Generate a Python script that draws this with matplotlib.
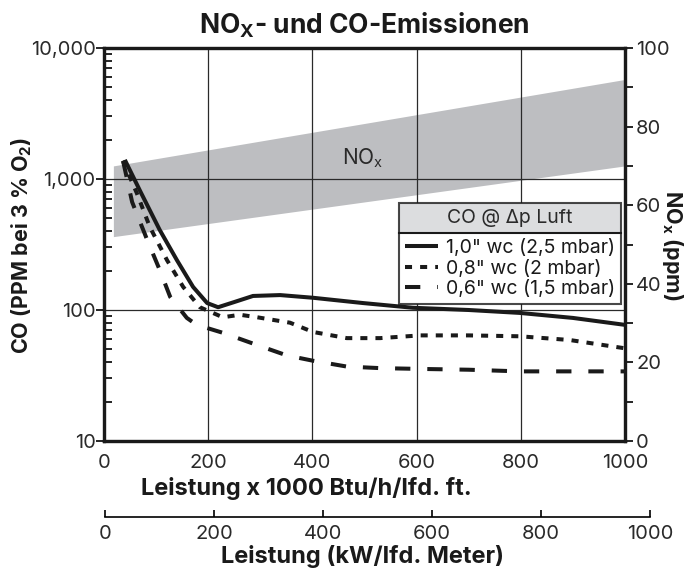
import numpy as np
import matplotlib
matplotlib.use('Agg')
import matplotlib.pyplot as plt
from matplotlib.patches import Rectangle
from matplotlib.lines import Line2D
from matplotlib.ticker import FixedLocator, NullFormatter, LogLocator

plt.rcParams['font.family'] = ['Inter', 'DejaVu Sans']
plt.rcParams['mathtext.fontset'] = 'custom'
plt.rcParams['mathtext.rm'] = 'Inter'

## Data (x = Leistung x 1000 Btu/h/lfd. ft.)
solid_x = [40, 70, 107, 140, 171, 198, 219, 250, 286, 338, 401, 497, 593, 700, 798, 900, 1000]
solid_y = [1400, 800, 408, 240, 150, 113, 105, 115, 128, 130, 124, 113, 104, 100, 95, 87, 77]

dotted_x = [36, 63, 88, 121, 152, 184, 228, 261, 294, 357, 401, 466, 530, 607, 700, 798, 894, 1000]
dotted_y = [1380, 780, 430, 240, 150, 105, 88, 92, 88, 80, 68, 61, 61, 64, 64, 63, 59, 51]

dashed_x = [37, 54, 83, 107, 127, 159, 178, 228, 294, 351, 401, 466, 530, 607, 700, 798, 900, 1000]
dashed_y = [1350, 667, 342, 202, 126, 87, 77, 67, 54, 45, 41, 37, 36, 35.5, 35, 34, 34, 34]

series_labels = ['1,0" wc (2,5 mbar)', '0,8" wc (2 mbar)', '0,6" wc (1,5 mbar)']

nox_x = [18, 1000]
nox_low = [52, 70]
nox_high = [70, 92]

kw_ticks = [0, 200, 400, 600, 800, 1000]

W, H = 690, 570

## Figure
fig = plt.figure(figsize=(6.9, 5.7), dpi=100, facecolor='white')
ax = fig.add_axes([104/W, 1-441/H, 521/W, 393/H])
ax2 = ax.twinx()
ax.set_zorder(ax2.get_zorder() + 1)
ax.patch.set_visible(False)

# NOx band on the right axis
ax2.fill_between(nox_x, nox_low, nox_high, color='#bdbec1', linewidth=0)
ax2.set_ylim(0, 100)
ax2.set_yticks([0, 20, 40, 60, 80, 100])
ax2.yaxis.set_minor_locator(FixedLocator([10, 30, 50, 70, 90]))
ax2.tick_params(axis='y', which='both', direction='out', length=6, width=1.2,
                labelsize=14.5, pad=2, labelcolor='#2a2a2a')

# CO curves
lw = 2.9
ax.plot(solid_x, solid_y, color='#1a1a1a', lw=lw, solid_capstyle='butt', label=series_labels[0])
ax.plot(dotted_x, dotted_y, color='#1a1a1a', lw=lw, ls=(0, (1.75, 2.0)), label=series_labels[1])
ax.plot(dashed_x, dashed_y, color='#1a1a1a', lw=lw, ls=(0, (3.8, 4.2)), label=series_labels[2])

ax.set_yscale('log')
ax.set_ylim(10, 10000)
ax.set_xlim(0, 1000)
ax.set_yticks([10, 100, 1000, 10000])
ax.set_yticklabels(['10', '100', '1,000', '10,000'])
ax.yaxis.set_minor_locator(LogLocator(base=10, subs=np.arange(2, 10)))
ax.yaxis.set_minor_formatter(NullFormatter())
ax.tick_params(axis='y', which='major', direction='out', length=6, width=1.2,
               labelsize=14.5, pad=0, labelcolor='#2a2a2a')
ax.tick_params(axis='y', which='minor', direction='in', length=6, width=1.2)
ax.set_xticks([0, 200, 400, 600, 800, 1000])
ax.tick_params(axis='x', length=0, labelsize=14.5, pad=9.5, labelcolor='#2a2a2a')

ax.grid(True, which='major', color='#2a2a2a', lw=0.9)

for a in (ax, ax2):
    for s in a.spines.values():
        s.set_linewidth(2.3)
        s.set_color('#1a1a1a')

# Titles and axis labels
fig.text(364/W, 1-33/H, 'NO$_\\mathregular{X}$- und CO-Emissionen', fontsize=19,
         fontweight='bold', ha='center', va='baseline', color='#1a1a1a')
fig.text(306/W, 1-489/H, 'Leistung x 1000 Btu/h/lfd. ft.', fontsize=17,
         fontweight='bold', ha='center', va='center', color='#1a1a1a')
fig.text(362/W, 1-556/H, 'Leistung (kW/lfd. Meter)', fontsize=17,
         fontweight='bold', ha='center', va='center', color='#1a1a1a')
fig.text(22/W, 1-245/H, 'CO (PPM bei 3 % O$_\\mathregular{2}$)', fontsize=15.5,
         fontweight='bold', ha='center', va='center', rotation=90, color='#1a1a1a')
fig.text(673/W, 1-245/H, 'NO$_\\mathregular{x}$ (ppm)', fontsize=15.5,
         fontweight='bold', ha='center', va='center', rotation=270, color='#1a1a1a')

ax.text(497, 1445, 'NO$_\\mathregular{x}$', fontsize=15, ha='center', va='center', color='#2a2a2a')

# Legend
leg = ax.legend(title='CO @ \u0394p Luft', loc='upper right', bbox_to_anchor=(0.992, 0.606),
                borderaxespad=0, fontsize=14, title_fontsize=14, frameon=True, fancybox=False,
                handlelength=1.7, handletextpad=0.4, labelspacing=0.12, borderpad=0.3)
leg._legend_box.sep = 9   # room between the title row and the entries
leg.get_frame().set_edgecolor('#1a1a1a')
leg.get_frame().set_linewidth(1.5)
leg.get_frame().set_facecolor('none')
leg.set_zorder(6)
for t in leg.get_texts():
    t.set_color('#1a1a1a')
leg.get_title().set_color('#2a2a2a')

fig.canvas.draw()
inv = ax.transAxes.inverted()
lb = leg.get_window_extent()
tb = leg.get_title().get_window_extent()
fb = leg.get_texts()[0].get_window_extent()
ysep = (tb.y0 + fb.y1) / 2
(x0, y0) = inv.transform((lb.x0, lb.y0))
(x1, y1) = inv.transform((lb.x1, lb.y1))
(_, ys) = inv.transform((lb.x0, ysep))
ax.add_patch(Rectangle((x0, y0), x1-x0, ys-y0, transform=ax.transAxes,
                       facecolor='white', edgecolor='none', zorder=5))
ax.add_patch(Rectangle((x0, ys), x1-x0, y1-ys, transform=ax.transAxes,
                       facecolor='#dcdddf', edgecolor='none', zorder=5))
ax.add_line(Line2D([x0, x1], [ys, ys], transform=ax.transAxes, color='#1a1a1a', lw=1.5, zorder=5.5))

# Second x axis in kW per metre
ax3 = fig.add_axes([105/W, 1-517/H, 545/W, 0.0001])
ax3.set_xlim(0, 1000)
ax3.set_xticks(kw_ticks)
ax3.set_yticks([])
for side in ('left', 'right', 'top'):
    ax3.spines[side].set_visible(False)
ax3.spines['bottom'].set_linewidth(1.2)
ax3.tick_params(axis='x', direction='in', length=5, width=1.2, labelsize=14.5, pad=6,
                labelcolor='#2a2a2a')
ax3.patch.set_visible(False)

fig.savefig('out.png', dpi=100)
